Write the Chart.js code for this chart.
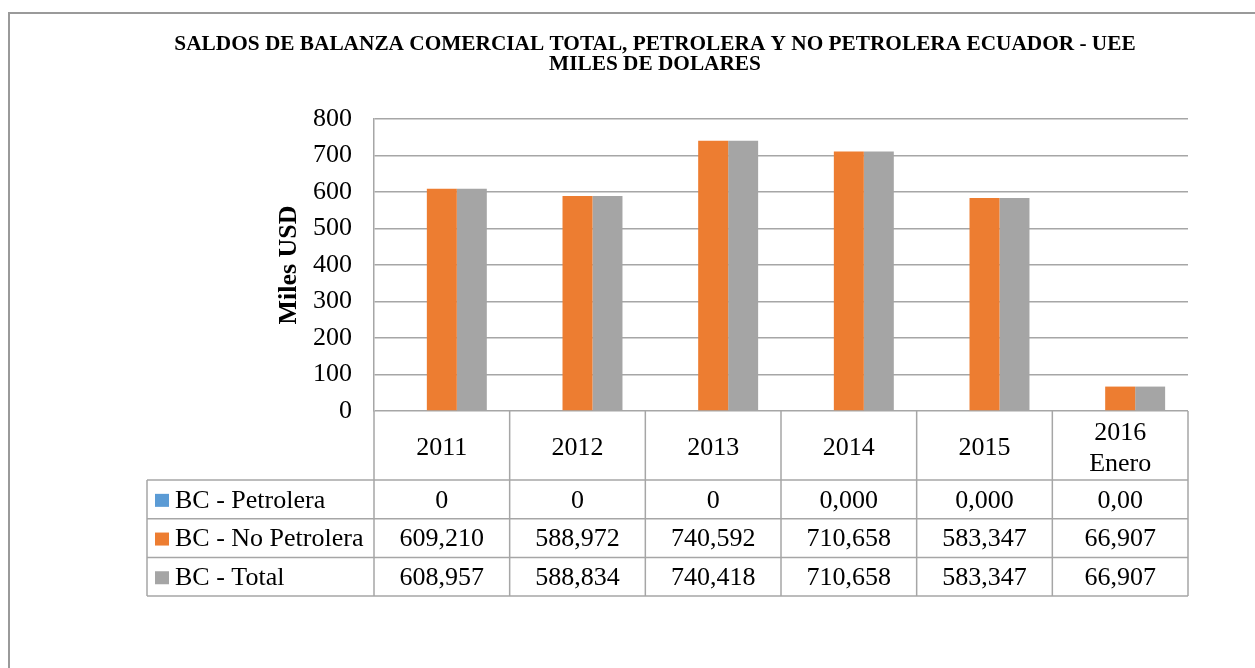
<!DOCTYPE html>
<html>
<head>
<meta charset="utf-8">
<script src="https://cdn.jsdelivr.net/npm/chart.js@4/dist/chart.umd.min.js"></script>
<style>
  html, body { margin: 0; padding: 0; background: #fff; overflow: hidden; }
  #marco { position: absolute; left: 8px; top: 12px; width: 1300px; height: 720px; border: 2px solid #9a9a9a; }
  #myChart { position: absolute; left: 0; top: 0; }
</style>
</head>
<body>
<div id="marco"></div>
<canvas id="myChart" width="1255" height="668"></canvas>
<script>
// datos
var categorias = [["2011"], ["2012"], ["2013"], ["2014"], ["2015"], ["2016", "Enero"]];
var petrolera = [0, 0, 0, 0, 0, 0];
var petroleraDecimales = [0, 0, 0, 3, 3, 2];
var noPetrolera = [609.210, 588.972, 740.592, 710.658, 583.347, 66.907];
var total = [608.957, 588.834, 740.418, 710.658, 583.347, 66.907];
var ticksY = [0, 800, 100];

var tituloLineas = [
    "SALDOS DE BALANZA COMERCIAL TOTAL, PETROLERA Y NO PETROLERA ECUADOR - UEE",
    "MILES DE DOLARES"
];

var fuente = "'Liberation Serif', 'Times New Roman', serif";
var colorLinea = '#a6a6a6';

function fmt(v, dec) {
    return v.toFixed(dec).replace('.', ',');
}

var series = [
    { label: 'BC - Petrolera', color: '#5b9bd5', data: petrolera,
      texto: petrolera.map(function (v, i) { return fmt(v, petroleraDecimales[i]); }) },
    { label: 'BC - No Petrolera', color: '#ed7d31', data: noPetrolera,
      texto: noPetrolera.map(function (v) { return fmt(v, 3); }) },
    { label: 'BC - Total', color: '#a5a5a5', data: total,
      texto: total.map(function (v) { return fmt(v, 3); }) }
];

// titulo y tabla de datos debajo del eje x
var tablaPlugin = {
    id: 'tabla',
    afterDraw: function (chart) {
        var ctx = chart.ctx;
        var a = chart.chartArea;
        var n = categorias.length;
        var colW = (a.right - a.left) / n;
        var headBottom = a.bottom + 69;
        var rowH = 38.7;
        var legendLeft = 147;
        var tableBottom = headBottom + rowH * series.length;

        ctx.save();
        // titulo
        ctx.fillStyle = '#000';
        ctx.font = 'bold 21.3px ' + fuente;
        ctx.textAlign = 'center';
        ctx.textBaseline = 'middle';
        ctx.fillText(tituloLineas[0], 655, 44.5);
        ctx.fillText(tituloLineas[1], 655, 64.5);

        // lineas
        ctx.strokeStyle = colorLinea;
        ctx.lineWidth = 1.5;
        ctx.beginPath();
        for (var i = 0; i <= n; i++) {
            var xx = a.left + i * colW;
            ctx.moveTo(xx, a.bottom);
            ctx.lineTo(xx, tableBottom);
        }
        ctx.moveTo(legendLeft, headBottom);
        ctx.lineTo(legendLeft, tableBottom);
        for (var r = 0; r <= series.length; r++) {
            var yy = headBottom + r * rowH;
            ctx.moveTo(legendLeft, yy);
            ctx.lineTo(a.right, yy);
        }
        ctx.stroke();

        // cabecera de categorias
        ctx.font = '26px ' + fuente;
        ctx.fillStyle = '#000';
        var headMid = (a.bottom + headBottom) / 2 + 3;
        categorias.forEach(function (c, i) {
            var cx = a.left + (i + 0.5) * colW;
            for (var k = 0; k < c.length; k++) {
                ctx.fillText(c[k], cx, headMid + (k - (c.length - 1) / 2) * 31);
            }
        });

        // filas
        series.forEach(function (s, r) {
            var cy = headBottom + (r + 0.5) * rowH + 1.5;
            ctx.fillStyle = s.color;
            ctx.fillRect(legendLeft + 8, cy - 7, 14, 13);
            ctx.fillStyle = '#000';
            ctx.textAlign = 'left';
            ctx.fillText(s.label, legendLeft + 28, cy);
            ctx.textAlign = 'center';
            s.texto.forEach(function (t, i) {
                ctx.fillText(t, a.left + (i + 0.5) * colW, cy);
            });
        });
        ctx.restore();
    }
};

var ctx = document.getElementById('myChart').getContext('2d');
var chart = new Chart(ctx, {
    type: 'bar',
    data: {
        labels: categorias.map(function (c) { return c.join(' '); }),
        datasets: series.map(function (s) {
            return {
                label: s.label,
                data: s.data,
                backgroundColor: s.color,
                borderWidth: 0,
                categoryPercentage: 0.663,
                barPercentage: 1.0
            };
        })
    },
    options: {
        responsive: false,
        animation: false,
        devicePixelRatio: 1,
        layout: { padding: { left: 274, right: 67, top: 119, bottom: 257 } },
        plugins: {
            legend: { display: false },
            title: { display: false },
            tooltip: { enabled: false }
        },
        scales: {
            x: {
                grid: { display: false },
                border: { display: false },
                ticks: { display: false },
                afterFit: function (scale) { scale.height = 0; }
            },
            y: {
                min: ticksY[0],
                max: ticksY[1],
                ticks: {
                    stepSize: ticksY[2],
                    padding: 22,
                    color: '#000',
                    font: { family: fuente, size: 26, lineHeight: 1.0 }
                },
                grid: { color: colorLinea, lineWidth: 1.5, drawTicks: false },
                border: { display: true, color: colorLinea, width: 1.5 },
                title: {
                    display: true,
                    text: 'Miles USD',
                    color: '#000',
                    font: { family: fuente, size: 26, weight: 'bold' },
                    padding: 0
                },
                afterFit: function (scale) { scale.width = 100; }
            }
        }
    },
    plugins: [tablaPlugin]
});
</script>
</body>
</html>
